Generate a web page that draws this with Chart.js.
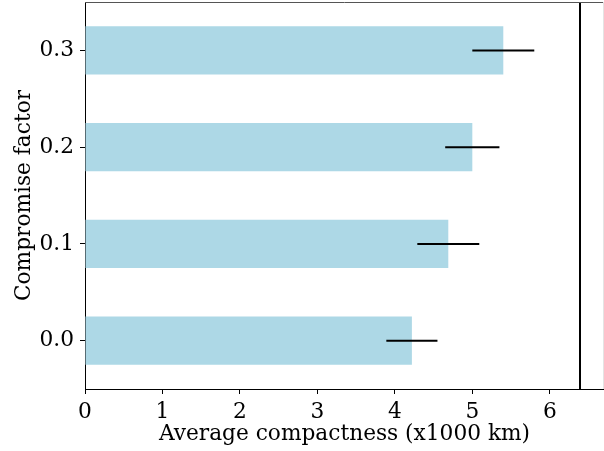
<!DOCTYPE html>
<html>
<head>
<meta charset="utf-8">
<script src="https://cdn.jsdelivr.net/npm/chart.js@4/dist/chart.umd.min.js"></script>
<style>
  html, body { margin: 0; padding: 0; background: #fff; }
  #wrap { width: 604px; height: 451px; }
</style>
</head>
<body>
<div id="wrap"><canvas id="myChart"></canvas></div>
<script>
// values
var factors = ['0.0', '0.1', '0.2', '0.3'];
var compactness = [4.22, 4.69, 5.00, 5.40];
var errors = [0.33, 0.40, 0.35, 0.40];
var xTicks = [0, 1, 2, 3, 4, 5, 6];
var referenceLine = 6.39;

var serif = "'DejaVu Serif', serif";
var fontSize = 21.7;

// error bars + vertical reference line, drawn through the scales
var extras = {
  id: 'extras',
  afterDatasetsDraw: function(chart) {
    var ctx = chart.ctx;
    var x = chart.scales.x, y = chart.scales.y;
    var area = chart.chartArea;
    ctx.save();
    ctx.strokeStyle = '#000';
    ctx.lineWidth = 2;
    for (var i = 0; i < factors.length; i++) {
      var py = y.getPixelForValue(i);
      ctx.beginPath();
      ctx.moveTo(x.getPixelForValue(compactness[i] - errors[i]), py);
      ctx.lineTo(x.getPixelForValue(compactness[i] + errors[i]), py);
      ctx.stroke();
    }
    var px = Math.round(x.getPixelForValue(referenceLine));
    ctx.beginPath();
    ctx.moveTo(px, area.top);
    ctx.lineTo(px, area.bottom);
    ctx.stroke();
    // top spine, right edge just visible
    ctx.lineWidth = 1;
    ctx.strokeStyle = '#555';
    ctx.beginPath();
    ctx.moveTo(area.left, area.top + 0.5);
    ctx.lineTo(area.right, area.top + 0.5);
    ctx.stroke();
    ctx.strokeStyle = '#e4e4e4';
    ctx.beginPath();
    ctx.moveTo(area.right - 0.5, area.top);
    ctx.lineTo(area.right - 0.5, area.bottom);
    ctx.stroke();
    ctx.restore();
  }
};

new Chart(document.getElementById('myChart'), {
  type: 'bar',
  data: {
    labels: factors,
    datasets: [{
      data: compactness,
      backgroundColor: '#add8e6',
      borderWidth: 0,
      barPercentage: 0.5,
      categoryPercentage: 1.0
    }]
  },
  options: {
    indexAxis: 'y',
    responsive: true,
    maintainAspectRatio: false,
    animation: false,
    layout: { padding: { top: 2, right: 0, bottom: 0, left: 0 } },
    plugins: {
      legend: { display: false },
      tooltip: { enabled: false }
    },
    scales: {
      x: {
        type: 'linear',
        min: 0,
        max: 6.7,
        afterBuildTicks: function(scale) {
          scale.ticks = xTicks.map(function(v) { return { value: v }; });
        },
        afterFit: function(scale) {
          scale.height = 62;
          scale.paddingLeft = 0;
          scale.paddingRight = 0;
        },
        grid: { display: true, drawOnChartArea: false, drawTicks: true, tickLength: 5, color: '#000' },
        border: { color: '#000', width: 1 },
        ticks: { color: '#000', padding: 5, font: { family: serif, size: fontSize } },
        title: {
          display: true,
          text: 'Average compactness (x1000 km)',
          color: '#000',
          font: { family: serif, size: fontSize },
          padding: { top: 0, bottom: 4 }
        }
      },
      y: {
        reverse: true,
        afterFit: function(scale) {
          scale.width = 85;
          scale.paddingTop = 0;
          scale.paddingBottom = 0;
        },
        grid: { display: true, offset: false, drawOnChartArea: false, drawTicks: true, tickLength: 5, color: '#000' },
        border: { color: '#000', width: 1 },
        ticks: { color: '#000', padding: 6, font: { family: serif, size: fontSize } },
        title: {
          display: true,
          text: 'Compromise factor',
          color: '#000',
          font: { family: serif, size: fontSize },
          padding: { top: 11, bottom: 0 }
        }
      }
    }
  },
  plugins: [extras]
});
</script>
</body>
</html>
